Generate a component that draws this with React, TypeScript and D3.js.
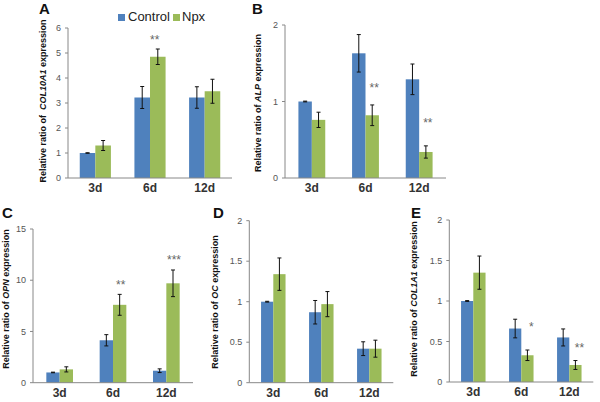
import React from 'react';
import * as d3 from 'd3';

// categories and series
const days = ['3d', '6d', '12d'];
const seriesNames = ['Control', 'Npx'];

// A - COL10A1
const colControlA = [1.0, 3.22, 3.22];
const colNpxA = [1.3, 4.85, 3.47];
const errControlA = [0.01, 0.44, 0.43];
const errNpxA = [0.2, 0.31, 0.48];
const starsA = ['', '**', ''];
const starLevelA = [0, 5.66, 0];

// B - ALP
const colControlB = [1.0, 1.63, 1.29];
const colNpxB = [0.76, 0.82, 0.34];
const errControlB = [0.005, 0.245, 0.2];
const errNpxB = [0.1, 0.135, 0.08];
const starsB = ['', '**', '**'];
const starLevelB = [0, 1.22, 0.77];

// C - OPN
const colControlC = [1.0, 4.14, 1.17];
const colNpxC = [1.3, 7.6, 9.7];
const errControlC = [0.03, 0.55, 0.18];
const errNpxC = [0.25, 1.02, 1.3];
const starsC = ['', '**', '***'];
const starLevelC = [0, 9.95, 12.36];

// D - OC
const colControlD = [1.0, 0.87, 0.42];
const colNpxD = [1.34, 0.97, 0.42];
const errControlD = [0.005, 0.145, 0.085];
const errNpxD = [0.2, 0.155, 0.105];
const starsD = ['', '', ''];
const starLevelD = [0, 0, 0];

// E - COL1A1
const colControlE = [1.0, 0.66, 0.55];
const colNpxE = [1.35, 0.33, 0.21];
const errControlE = [0.005, 0.115, 0.105];
const errNpxE = [0.205, 0.065, 0.055];
const starsE = ['', '*', '**'];
const starLevelE = [0, 0.72, 0.47];

const ticksA = [0, 1, 2, 3, 4, 5, 6];
const ticksB = [0, 1, 2];
const ticksC = [0, 5, 10, 15];
const ticksD = [0, 0.5, 1, 1.5, 2];
const ticksE = [0, 0.5, 1, 1.5, 2];

const BLUE = '#4f81bd';
const GREEN = '#9bbb59';
const FONT = 'Liberation Sans, Arial, Helvetica, sans-serif';

const panels = [
  { letter: 'A', gene: 'COL10A1', pre: 'Relative ratio of  ', control: colControlA, npx: colNpxA, eC: errControlA, eN: errNpxA, stars: starsA, starLevel: starLevelA, ticks: ticksA,
    box: { x0: 68, x1: 232, yTop: 28, yBot: 178, frac: 0.57, labelX: 43, labelY: 101, letterX: 39, letterY: 14, starDx: -3 } },
  { letter: 'B', gene: 'ALP', pre: 'Relative ratio of ', control: colControlB, npx: colNpxB, eC: errControlB, eN: errNpxB, stars: starsB, starLevel: starLevelB, ticks: ticksB,
    box: { x0: 285, x1: 446, yTop: 25, yBot: 178, frac: 0.5, labelX: 258, labelY: 103, letterX: 252, letterY: 14, starDx: 2 } },
  { letter: 'C', gene: 'OPN', pre: 'Relative ratio of ', control: colControlC, npx: colNpxC, eC: errControlC, eN: errNpxC, stars: starsC, starLevel: starLevelC, ticks: ticksC,
    box: { x0: 33, x1: 193, yTop: 229, yBot: 382.7, frac: 0.5, labelX: 5.5, labelY: 299, letterX: 2, letterY: 218, starDx: 1 } },
  { letter: 'D', gene: 'OC', pre: 'Relative ratio of ', control: colControlD, npx: colNpxD, eC: errControlD, eN: errNpxD, stars: starsD, starLevel: starLevelD, ticks: ticksD,
    box: { x0: 249.3, x1: 393.3, yTop: 220.7, yBot: 382.7, frac: 0.51, labelX: 215, labelY: 302, letterX: 213, letterY: 218, starDx: 0 } },
  { letter: 'E', gene: 'COL1A1', pre: 'Relative ratio of ', control: colControlE, npx: colNpxE, eC: errControlE, eN: errNpxE, stars: starsE, starLevel: starLevelE, ticks: ticksE,
    box: { x0: 449.3, x1: 593.3, yTop: 220, yBot: 382, frac: 0.51, labelX: 414, labelY: 299, letterX: 411, letterY: 218, starDx: 4 } },
];

const Panel = ({ p }) => {
  const b = p.box;
  const x = d3.scaleBand().domain(days).range([b.x0, b.x1]).paddingInner(0).paddingOuter(0);
  const inner = d3.scaleBand().domain(seriesNames)
    .range([0, x.bandwidth() * b.frac]);
  const off = (x.bandwidth() * (1 - b.frac)) / 2;
  const y = d3.scaleLinear().domain([0, d3.max(p.ticks)]).range([b.yBot, b.yTop]);
  const series = [
    { name: 'Control', vals: p.control, errs: p.eC, color: BLUE },
    { name: 'Npx', vals: p.npx, errs: p.eN, color: GREEN },
  ];
  return (
    <g>
      <text x={b.letterX} y={b.letterY} fontSize={15} fontWeight="bold" fill="#111" fontFamily={FONT}>{p.letter}</text>
      <text transform={`translate(${b.labelX},${b.labelY}) rotate(-90)`} dy="0.35em" textAnchor="middle"
        fontSize={9} fontWeight="bold" fill="#111" fontFamily={FONT} style={{ whiteSpace: 'pre' }}>
        {p.pre}<tspan fontStyle="italic">{p.gene}</tspan> expression
      </text>
      {p.ticks.map(t => (
        <g key={t}>
          <text x={b.x0 - 7} y={y(t)} dy="0.35em" textAnchor="end" fontSize={9} fill="#555" fontFamily={FONT}>{t}</text>
          <line x1={b.x0 - 3} x2={b.x0} y1={y(t)} y2={y(t)} stroke="#888" />
        </g>
      ))}
      {series.map(s => days.map((d, i) => {
        const bx = x(d) + off + inner(s.name);
        return (
          <rect key={s.name + d} x={bx} y={y(s.vals[i])} width={inner.bandwidth()} height={b.yBot - y(s.vals[i])} fill={s.color} />
        );
      }))}
      {series.map(s => days.map((d, i) => {
        const cx = x(d) + off + inner(s.name) + inner.bandwidth() / 2;
        const hi = y(s.vals[i] + s.errs[i]);
        const lo = y(s.vals[i] - s.errs[i]);
        return (
          <g key={'e' + s.name + d} stroke="#111" strokeWidth={1}>
            <line x1={cx} x2={cx} y1={hi} y2={lo} />
            <line x1={cx - 2} x2={cx + 2} y1={hi} y2={hi} />
            <line x1={cx - 2} x2={cx + 2} y1={lo} y2={lo} />
          </g>
        );
      }))}
      {days.map((d, i) => p.stars[i] ? (
        <text key={'s' + d} x={x(d) + off + inner('Npx') + inner.bandwidth() / 2 + b.starDx} y={y(p.starLevel[i])} dy="0.65em"
          textAnchor="middle" fontSize={12} fill="#666" fontFamily={FONT}>{p.stars[i]}</text>
      ) : null)}
      <line x1={b.x0} x2={b.x0} y1={b.yTop} y2={b.yBot} stroke="#888" />
      <line x1={b.x0} x2={b.x1} y1={b.yBot} y2={b.yBot} stroke="#888" />
      {days.map(d => (
        <text key={'c' + d} x={x(d) + x.bandwidth() / 2} y={b.yBot + 14} textAnchor="middle" fontSize={12} fontWeight="bold" fill="#333" fontFamily={FONT}>{d}</text>
      ))}
    </g>
  );
};

export default function App() {
  return (
    <svg width={600} height={402} style={{ position: 'absolute', left: 0, top: 0, background: '#fff' }}>
      <rect width={600} height={402} fill="#fff" />
      {panels.map(p => <Panel key={p.letter} p={p} />)}
      <g fontFamily={FONT} fontSize={13} fill="#222">
        <rect x={118} y={14} width={7} height={7} fill={BLUE} />
        <text x={128} y={21}>{seriesNames[0]}</text>
        <rect x={173} y={14} width={7} height={7} fill={GREEN} />
        <text x={182} y={21}>{seriesNames[1]}</text>
      </g>
    </svg>
  );
}
